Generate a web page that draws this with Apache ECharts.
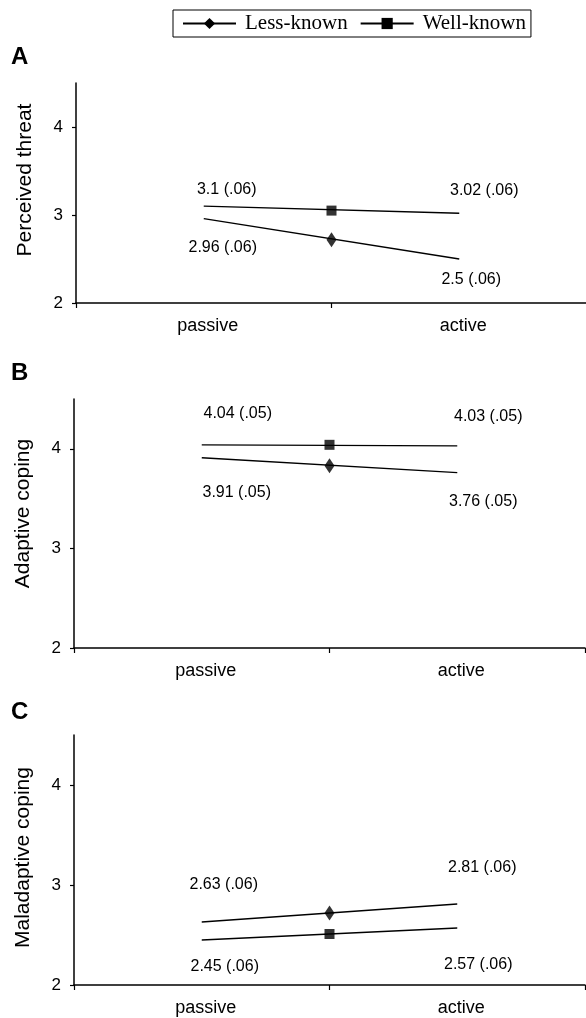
<!DOCTYPE html>
<html><head><meta charset="utf-8">
<script src="https://cdn.jsdelivr.net/npm/echarts@6/dist/echarts.min.js"></script>
<style>html,body{margin:0;padding:0;background:#fff}#c{width:586px;height:1018px}</style>
</head><body><div id="c"></div>
<script>
// ---- data ----
const categories = ['passive', 'active'];
const panelLetters = ['A', 'B', 'C'];
const yNames = ['Perceived threat', 'Adaptive coping', 'Maladaptive coping'];
const yTicks = [2, 3, 4];
const lessKnown = [[2.96, 2.5], [3.91, 3.76], [2.63, 2.81]];
const wellKnown = [[3.1, 3.02], [4.04, 4.03], [2.45, 2.57]];
const lessSE = [['.06', '.06'], ['.05', '.05'], ['.06', '.06']];
const wellSE = [['.06', '.06'], ['.05', '.05'], ['.06', '.06']];
const lessMarker = [2.72, 3.83, 2.72];
const wellMarker = [3.05, 4.04, 2.51];

// ---- layout / style ----
const grids = [
  {left: 76, top: 83, width: 511, height: 220},
  {left: 74, top: 399, width: 511, height: 249},
  {left: 74, top: 735, width: 511, height: 250}
];
const letterTops = [45, 361, 700];
const nameShift = [26, 20, 5];
const lessOffsets = [[[19, 29], [12, 21]], [[35, 35], [26, 29]], [[22, -37], [25, -36]]];
const wellOffsets = [[[23, -17], [25, -23]], [[36, -31], [31, -29]], [[23, 27], [21, 37]]];
const SANS = 'Liberation Sans, Arial, sans-serif';
const SERIF = 'Liberation Serif, Times New Roman, serif';

const xAxes = [], yAxes = [], series = [];
grids.forEach((g, i) => {
  xAxes.push({
    type: 'category', gridIndex: i, data: categories, boundaryGap: true,
    axisLine: {onZero: false, lineStyle: {color: '#000', width: 1.5}},
    axisTick: {show: true, length: 5, lineStyle: {color: '#000', width: 1.2}},
    axisLabel: {fontSize: 18, color: '#000', margin: 14, fontFamily: SANS, padding: [0, 0, 0, 8]},
    splitLine: {show: false}
  });
  xAxes.push({type: 'value', gridIndex: i, min: -0.5, max: 1.5, show: false,
    axisLine: {onZero: false}});
  yAxes.push({
    type: 'value', gridIndex: i, min: 2, max: 4.5, interval: 1,
    axisLine: {show: true, onZero: false, lineStyle: {color: '#000', width: 1.5}},
    axisTick: {show: true, length: 4, customValues: yTicks, lineStyle: {color: '#000', width: 1.2}},
    axisLabel: {customValues: yTicks, fontSize: 17, color: '#000', margin: 13, fontFamily: SANS},
    splitLine: {show: false},
    name: yNames[i], nameLocation: 'middle', nameGap: 40,
    nameTextStyle: {fontSize: 21, color: '#000', fontFamily: SANS, padding: [0, 0, 0, nameShift[i]]}
  });
  const mkLine = (name, vals, ses, offs, sym) => ({
    name, type: 'line', xAxisIndex: 2 * i, yAxisIndex: i,
    data: vals.map((v, j) => ({value: v, label: {offset: offs[j]}})),
    symbol: sym, symbolSize: 0, showSymbol: true,
    lineStyle: {color: '#000', width: 1.3},
    itemStyle: {color: '#000'},
    label: {show: true, position: 'inside', color: '#000', fontSize: 16, fontFamily: SANS,
      formatter: p => p.value + ' (' + ses[p.dataIndex] + ')'},
    emphasis: {disabled: true}, silent: true
  });
  series.push(mkLine('Less-known', lessKnown[i], lessSE[i], lessOffsets[i], 'diamond'));
  series.push(mkLine('Well-known', wellKnown[i], wellSE[i], wellOffsets[i], 'rect'));
});
grids.forEach((g, i) => {
  series.push({name: 'Less-known', type: 'scatter', xAxisIndex: 2 * i + 1, yAxisIndex: i,
    data: [[0.5, lessMarker[i]]], symbol: 'diamond', symbolSize: [10, 15],
    itemStyle: {color: '#000'}, z: 5, silent: true});
  series.push({name: 'Well-known', type: 'scatter', xAxisIndex: 2 * i + 1, yAxisIndex: i,
    data: [[0.5, wellMarker[i]]], symbol: 'rect', symbolSize: [10, 10],
    itemStyle: {color: '#000'}, z: 5, silent: true});
});

const chart = echarts.init(document.getElementById('c'), null, {renderer: 'canvas'});
chart.setOption({
  animation: false,
  backgroundColor: '#fff',
  title: panelLetters.map((t, i) => ({text: t, left: 11, top: letterTops[i], padding: 0,
    textStyle: {fontSize: 24, fontWeight: 'bold', fontFamily: SANS, color: '#000'}})),
  legend: {
    data: ['Less-known', 'Well-known'], left: 173, top: 10, orient: 'horizontal',
    itemWidth: 53, itemHeight: 14, itemGap: 12, selectedMode: false,
    borderColor: '#000', borderWidth: 1, padding: [3, 5, 3, 9],
    textStyle: {fontFamily: SERIF, fontSize: 21, color: '#000', padding: [0, 0, 0, 4]}
  },
  grid: grids.map(g => Object.assign({outerBoundsMode: 'none', containLabel: false}, g)),
  xAxis: xAxes,
  yAxis: yAxes,
  series: series
});
</script></body></html>
